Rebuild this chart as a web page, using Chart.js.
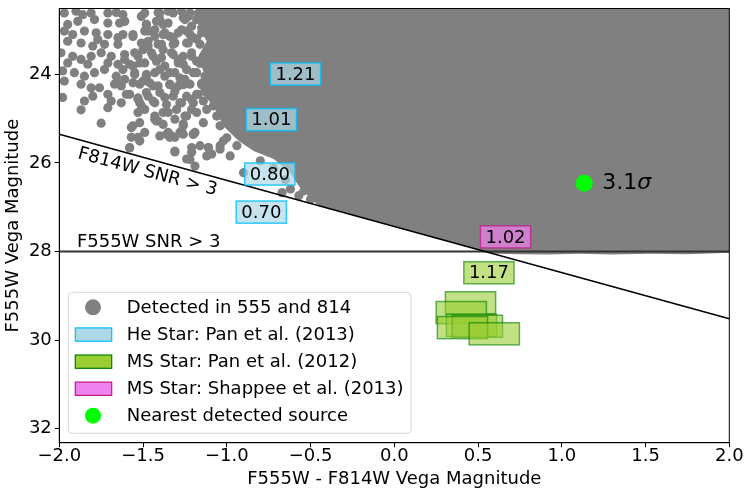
<!DOCTYPE html>
<html>
<head>
<meta charset="utf-8">
<script src="https://cdn.jsdelivr.net/npm/chart.js@4.4.1/dist/chart.umd.min.js"></script>
<style>
  html, body { margin: 0; padding: 0; background: #fff; }
  canvas { display: block; }
</style>
</head>
<body>
<canvas id="cmd" width="750" height="496"></canvas>
<script>
const detX = [
  -1.97, -1.90, -1.86, -1.81, -1.71, -1.66, -1.62, -1.49, -1.41, -1.33, -1.27, -1.22,
  -1.95, -1.89, -1.79, -1.71, -1.64, -1.61, -1.48, -1.40, -1.35, -1.25, -1.21,
  -1.97, -1.92, -1.85, -1.78, -1.77, -1.71, -1.65, -1.56, -1.47, -1.43, -1.37, -1.32, -1.27, -1.22,
  -1.95, -1.87, -1.80, -1.73, -1.65, -1.51, -1.47, -1.39, -1.31, -1.23,
  -1.99, -1.92, -1.87, -1.81, -1.75, -1.69, -1.61, -1.53, -1.45, -1.39, -1.33, -1.29, -1.21,
  -1.95, -1.83, -1.71, -1.65, -1.56, -1.49, -1.37, -1.26,
  -1.98, -1.91, -1.85, -1.79, -1.73, -1.66, -1.61, -1.55, -1.48, -1.43, -1.37, -1.31, -1.25, -1.20,
  -1.97, -1.87, -1.81, -1.76, -1.67, -1.63, -1.52, -1.46, -1.41, -1.34, -1.29, -1.22,
  -1.98, -1.85, -1.80, -1.71, -1.69, -1.63, -1.58, -1.53, -1.48, -1.43, -1.37, -1.32, -1.27, -1.21, -1.51,
  -1.87, -1.71, -1.75, -1.53, -1.49, -1.43, -1.41, -1.35, -1.31, -1.25, -1.21, -1.52,
  -1.57, -1.49, -1.35, -1.31, -1.26, -1.19, -1.53, -1.58,
  -1.43, -1.38, -1.33, -1.27, -1.26, -1.20, -1.31, -1.22, -1.19, -1.11, -1.09, -1.04, -1.02, -0.98, -1.00, -0.94, -0.93, -0.90,
  -0.67, -0.62, -0.57, -0.54, -0.50, -0.46, -0.42,
  -1.52, -1.40, -1.21, -1.12, -1.24, -0.80, -0.72, -0.65,
  -1.17, -1.15, -1.18, -1.16, -1.15, -1.17,
  -1.61, -1.51, -1.40, -1.35, -1.32, -1.26, -1.23, -1.18, -1.14, -1.09, -1.04, -1.00, -1.48, -1.42, -1.38,
  -1.62, -1.56, -1.49, -1.43, -1.38, -1.34, -1.29, -1.24, -1.20, -1.15, -1.10, -1.05, -1.01,
  -1.47, -1.41, -1.32, -1.24, -1.16, -1.08, -1.02,
  -1.61, -1.55, -1.50, -1.44, -1.38, -1.32, -1.26, -1.21, -1.14, -1.10, -1.06, -1.00,
  -1.58, -1.52, -1.42, -1.29, -1.18, -1.12, -1.04,
  -1.62, -1.55, -1.48, -1.40, -1.34, -1.28, -1.24, -1.18, -1.13, -1.08, -1.02,
  -1.63, -1.56, -1.50, -1.44, -1.34, -1.26, -1.15, -1.06, -1.00,
  -1.60, -1.53, -1.47, -1.40, -1.31, -1.24, -1.18, -1.12, -1.04,
  -1.52, -1.44, -1.36, -1.28, -1.20, -1.14, -1.08, -1.02,
  -1.56, -1.42, -1.38, -1.30, -1.24, -1.18, -1.12, -1.06, -1.00, -1.26, -1.14, -1.04,
  -1.36, -1.28, -1.20, -1.34, -1.16, -1.11, -1.04, -1.31, -1.21, -1.57, -1.52, -1.58
];
const detY = [
  22.61, 22.57, 22.65, 22.61, 22.61, 22.60, 22.65, 22.61, 22.60, 22.57, 22.57, 22.61,
  22.87, 22.80, 22.76, 22.84, 22.84, 22.80, 22.87, 22.76, 22.84, 22.76, 22.91,
  23.02, 23.10, 23.02, 23.06, 23.21, 23.10, 23.17, 23.14, 23.02, 23.14, 23.06, 23.17, 22.99, 23.10,
  23.25, 23.29, 23.36, 23.32, 23.32, 23.29, 23.36, 23.32, 23.29, 23.29,
  23.51, 23.59, 23.66, 23.59, 23.51, 23.59, 23.66, 23.59, 23.51, 23.62, 23.51, 23.66, 23.59,
  23.74, 23.77, 23.74, 23.77, 23.81, 23.74, 23.81, 23.77,
  23.92, 23.96, 24.04, 23.96, 23.89, 24.04, 24.11, 24.00, 24.04, 23.96, 24.04, 23.96, 24.11, 23.96,
  24.15, 24.22, 24.30, 24.30, 24.22, 24.26, 24.22, 24.19, 24.26, 24.22, 24.26, 24.22,
  24.52, 24.60, 24.49, 24.45, 24.60, 24.64, 24.45, 24.56, 24.41, 24.64, 24.52, 24.49, 24.64, 24.56, 24.71,
  24.80, 24.75, 25.10, 24.86, 24.79, 24.94, 25.05, 24.86, 25.01, 24.94, 24.79, 25.09,
  25.20, 25.31, 25.31, 25.42, 25.35, 25.31, 25.42, 25.66,
  25.01, 25.13, 25.39, 25.28, 25.16, 25.35, 25.73, 25.92, 26.07, 25.65, 25.80, 25.69, 25.50, 25.84, 25.43, 25.61, 25.35, 26.22,
  26.67, 26.59, 26.74, 26.63, 26.82, 26.74, 26.85,
  25.50, 25.39, 25.65, 25.84, 25.91, 25.95, 26.12, 26.38,
  22.62, 22.95, 23.20, 23.75, 24.20, 24.45,
  22.80, 22.69, 22.61, 22.57, 22.61, 22.72, 22.69, 22.76, 22.65, 22.61, 22.76, 22.69, 22.87, 22.80, 22.87,
  23.10, 23.10, 23.02, 22.99, 23.10, 23.14, 23.06, 23.02, 23.17, 23.06, 22.95, 23.14, 23.02,
  23.25, 23.32, 23.32, 23.29, 23.32, 23.25, 23.36,
  23.55, 23.51, 23.44, 23.59, 23.44, 23.55, 23.59, 23.51, 23.59, 23.47, 23.62, 23.59,
  23.77, 23.74, 23.70, 23.74, 23.70, 23.74, 23.77,
  23.89, 23.96, 24.00, 23.89, 23.96, 24.08, 23.89, 23.96, 24.04, 23.93, 24.00,
  24.19, 24.19, 24.15, 24.26, 24.23, 24.23, 24.23, 24.19, 24.26,
  24.45, 24.53, 24.49, 24.41, 24.38, 24.49, 24.45, 24.41, 24.45,
  24.64, 24.60, 24.68, 24.64, 24.64, 24.60, 24.71, 24.64,
  25.16, 25.05, 24.86, 24.79, 24.94, 24.86, 24.79, 24.94, 25.01, 25.12, 25.09, 25.16,
  25.35, 25.31, 25.35, 25.42, 25.61, 25.65, 25.61, 25.75, 25.76, 25.42, 25.50, 25.65
];

// outline of the part of the cloud where the detections overlap completely
const cloudX = [-1.16, -1.17, -1.12, -1.17, -1.13, -1.16, -1.08, -1.02, -0.93, -0.84, -0.72, -0.63, -0.57,
  -0.50, -0.45, 0.50, 0.60, 0.75, 0.929, 1.10, 1.30, 1.526, 1.75, 2.05, 2.05];
const cloudY = [22.3, 22.91, 23.25, 23.59, 24.04, 24.38, 24.71, 25.17, 25.50, 25.73, 25.91, 26.18, 26.52,
  26.81, 26.97, 27.96, 28.05, 28.06, 28.07, 28.05, 28.07, 28.05, 28.06, 28.02, 22.3];

// detection limits
const f814LimitX = [-2, 2];
const f814LimitY = [25.35, 29.52];
const f555LimitX = [-2, 2];
const f555LimitY = [28, 28];

// companion models
const heStarX = [-0.59, -0.734, -0.743, -0.794];
const heStarY = [23.99, 25.02, 26.25, 27.11];
const heStarLabels = ['1.21', '1.01', '0.80', '0.70'];

const msPanX = [0.565, 0.455, 0.40, 0.461, 0.496, 0.407, 0.597];
const msPanY = [28.48, 29.16, 29.38, 29.67, 29.69, 29.72, 29.86];
const msPanLabels = ['1.17', '', '', '', '', '', ''];

const msShappeeX = [0.664];
const msShappeeY = [27.67];
const msShappeeLabels = ['1.02'];

// nearest detected source
const nearestX = [1.134];
const nearestY = [26.46];
const nearestLabel = '3.1';

const xTicks = [-2, -1.5, -1, -0.5, 0, 0.5, 1, 1.5, 2];
const yTicks = [24, 26, 28, 30, 32];

const FONT = "'DejaVu Sans', sans-serif";
const BOX_W = 0.30, BOX_H = 0.50;

const pts = (xs, ys) => xs.map((x, i) => ({x: x, y: ys[i]}));

function drawBoxes(chart, xs, ys, labels, fill, edge) {
    const {ctx, scales: {x, y}} = chart;
    ctx.save();
    ctx.lineWidth = 1.5;
    ctx.font = '18px ' + FONT;
    ctx.textAlign = 'center';
    ctx.textBaseline = 'middle';
    xs.forEach((cx, i) => {
        const l = x.getPixelForValue(cx - BOX_W / 2), r = x.getPixelForValue(cx + BOX_W / 2);
        const t = y.getPixelForValue(ys[i] - BOX_H / 2), b = y.getPixelForValue(ys[i] + BOX_H / 2);
        ctx.fillStyle = fill;
        ctx.fillRect(l, t, r - l, b - t);
        ctx.strokeStyle = edge;
        ctx.strokeRect(l, t, r - l, b - t);
        if (labels[i]) {
            ctx.fillStyle = '#000';
            ctx.fillText(labels[i], (l + r) / 2, (t + b) / 2 + 1);
        }
    });
    ctx.restore();
}

function drawLegend(chart) {
    const {ctx, chartArea} = chart;
    const L = chartArea.left + 9, T = chartArea.bottom - 150.4, W = 342.7, H = 141, R = 4;
    ctx.save();
    ctx.beginPath();
    ctx.moveTo(L + R, T);
    ctx.arcTo(L + W, T, L + W, T + H, R);
    ctx.arcTo(L + W, T + H, L, T + H, R);
    ctx.arcTo(L, T + H, L, T, R);
    ctx.arcTo(L, T, L + W, T, R);
    ctx.closePath();
    ctx.fillStyle = 'rgba(255,255,255,0.8)';
    ctx.fill();
    ctx.strokeStyle = 'rgba(204,204,204,0.8)';
    ctx.lineWidth = 1;
    ctx.stroke();

    const rows = [
        {text: 'Detected in 555 and 814', dot: 'gray'},
        {text: 'He Star: Pan et al. (2013)', fill: '#add8e6', edge: '#00bfff'},
        {text: 'MS Star: Pan et al. (2012)', fill: '#9acd32', edge: '#008000'},
        {text: 'MS Star: Shappee et al. (2013)', fill: '#ee82ee', edge: '#c71585'},
        {text: 'Nearest detected source', dot: '#00ff00'}
    ];
    ctx.font = '18px ' + FONT;
    ctx.textAlign = 'left';
    ctx.textBaseline = 'middle';
    rows.forEach((row, i) => {
        const cy = T + 15 + i * 27.1;
        if (row.dot) {
            ctx.beginPath();
            ctx.arc(L + 24.7, cy, 8, 0, Math.PI * 2);
            ctx.fillStyle = row.dot;
            ctx.fill();
        } else {
            ctx.fillStyle = row.fill;
            ctx.fillRect(L + 7, cy - 6.5, 36.4, 13.3);
            ctx.strokeStyle = row.edge;
            ctx.lineWidth = 1.2;
            ctx.strokeRect(L + 7, cy - 6.5, 36.4, 13.3);
        }
        ctx.fillStyle = '#000';
        ctx.fillText(row.text, L + 58.4, cy + 1);
    });
    ctx.restore();
}

const overlay = {
    id: 'overlay',
    afterDatasetsDraw(chart) {
        const {ctx, chartArea, scales: {x, y}} = chart;

        drawBoxes(chart, heStarX, heStarY, heStarLabels, 'rgba(173,216,230,0.7)', 'rgba(0,191,255,0.8)');
        drawBoxes(chart, msPanX, msPanY, msPanLabels, 'rgba(154,205,50,0.6)', 'rgba(0,128,0,0.6)');
        drawBoxes(chart, msShappeeX, msShappeeY, msShappeeLabels, 'rgba(238,130,238,0.7)', 'rgba(199,21,133,0.7)');

        ctx.save();
        ctx.fillStyle = '#000';
        ctx.font = '18px ' + FONT;
        ctx.textAlign = 'left';
        ctx.textBaseline = 'alphabetic';
        ctx.fillText('F555W SNR > 3', x.getPixelForValue(-1.895), y.getPixelForValue(27.90));

        ctx.save();
        ctx.translate(x.getPixelForValue(-1.895), y.getPixelForValue(25.89));
        ctx.rotate(15 * Math.PI / 180);
        ctx.fillText('F814W SNR > 3', 0, 0);
        ctx.restore();

        // label next to the nearest source
        const sx = x.getPixelForValue(nearestX[0]) + 18, sy = y.getPixelForValue(nearestY[0]);
        ctx.textBaseline = 'middle';
        ctx.font = '22px ' + FONT;
        ctx.fillText(nearestLabel, sx, sy);
        const w = ctx.measureText(nearestLabel).width;
        ctx.font = 'italic 22px ' + FONT;
        ctx.fillText('\u03c3', sx + w, sy);

        // axes frame
        ctx.strokeStyle = '#000';
        ctx.lineWidth = 1;
        ctx.strokeRect(chartArea.left, chartArea.top, chartArea.right - chartArea.left, chartArea.bottom - chartArea.top);
        ctx.restore();

        drawLegend(chart);
    }
};

Chart.defaults.font.family = FONT;
Chart.defaults.color = '#000';

new Chart(document.getElementById('cmd'), {
    type: 'scatter',
    data: {
        datasets: [
            {
                label: 'Nearest detected source',
                data: pts(nearestX, nearestY),
                pointRadius: 8.5,
                backgroundColor: '#00ff00',
                borderWidth: 0,
                order: 1
            },
            {
                label: 'F814W SNR > 3',
                data: pts(f814LimitX, f814LimitY),
                showLine: true,
                borderColor: '#000',
                borderWidth: 1.5,
                pointRadius: 0,
                order: 2
            },
            {
                label: 'F555W SNR > 3',
                data: pts(f555LimitX, f555LimitY),
                showLine: true,
                borderColor: '#333',
                borderWidth: 2,
                pointRadius: 0,
                order: 3
            },
            {
                label: 'Detected in 555 and 814',
                data: pts(detX, detY),
                pointRadius: 4.6,
                backgroundColor: 'gray',
                borderWidth: 0,
                order: 4
            },
            {
                label: 'Detected in 555 and 814 (dense)',
                data: pts(cloudX, cloudY),
                showLine: true,
                fill: 'shape',
                tension: 0,
                backgroundColor: 'gray',
                borderColor: 'gray',
                borderWidth: 0,
                pointRadius: 0,
                order: 5
            }
        ]
    },
    options: {
        responsive: false,
        animation: false,
        events: [],
        layout: {
            padding: {left: 0, right: 20.7, top: 7.3, bottom: 0}
        },
        plugins: {
            legend: {display: false},
            tooltip: {enabled: false}
        },
        scales: {
            x: {
                type: 'linear',
                min: -2,
                max: 2,
                afterBuildTicks: s => { s.ticks = xTicks.map(v => ({value: v})); },
                afterFit: s => { s.height = 53.3; s.paddingLeft = 0; s.paddingRight = 0; },
                ticks: {
                    autoSkip: false,
                    maxRotation: 0,
                    padding: 0,
                    font: {size: 18, lineHeight: 1},
                    callback: v => v.toFixed(1).replace('-', '\u2212')
                },
                grid: {drawOnChartArea: false, drawTicks: true, tickLength: 4.5, color: '#000'},
                border: {display: true, color: '#000', width: 1},
                title: {
                    display: true,
                    text: 'F555W - F814W Vega Magnitude',
                    font: {size: 18},
                    padding: {top: 0, bottom: 6}
                }
            },
            y: {
                type: 'linear',
                reverse: true,
                min: 22.51,
                max: 32.32,
                afterBuildTicks: s => { s.ticks = yTicks.map(v => ({value: v})); },
                afterFit: s => { s.width = 59.3; s.paddingTop = 0; s.paddingBottom = 0; },
                ticks: {
                    autoSkip: false,
                    padding: 3,
                    font: {size: 18},
                    callback: v => String(v)
                },
                grid: {drawOnChartArea: false, drawTicks: true, tickLength: 4.5, color: '#000'},
                border: {display: true, color: '#000', width: 1},
                title: {
                    display: true,
                    text: 'F555W Vega Magnitude',
                    font: {size: 18},
                    padding: {top: 3, bottom: 0}
                }
            }
        }
    },
    plugins: [overlay]
});
</script>
</body>
</html>
